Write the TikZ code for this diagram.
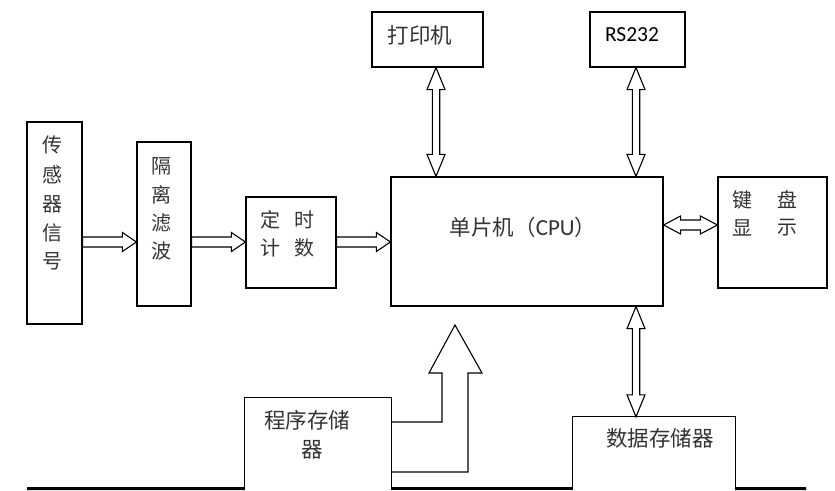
\documentclass[tikz,border=0pt]{standalone}
\usepackage{fontspec}
\newfontfamily\cjk{Noto Sans CJK SC}
\newfontfamily\lat{Carlito}
\usetikzlibrary{calc}
\tikzset{
  blk/.style={draw, line width=1.2pt, inner sep=0pt},
  ghost/.style={inner sep=0pt},
  fat/.style={draw, line width=1.1pt, fill=white, line join=miter},
  bus/.style={line width=3pt},
  side/.style={line width=1.2pt},
  lbl/.style={inner sep=0pt, text=black!80, font=\cjk\fontsize{20}{20}\selectfont},
  lblL/.style={inner sep=0pt, text=black!80, font=\cjk\fontsize{21.5}{21.5}\selectfont},
}
\newcommand\vdar[2]{\draw[fat] let \p1=#1, \p2=#2 in
  (\x1,\y1) -- ++(9pt,-22pt) -- ++(-5.3pt,0pt) -- (\x1+3.7pt,\y2+22pt) -- ++(5.3pt,0pt)
  -- (\x1,\y2) -- ++(-9pt,22pt) -- ++(5.3pt,0pt) -- (\x1-3.7pt,\y1-22pt) -- ++(-5.3pt,0pt) -- cycle;}
\newcommand\hdar[2]{\draw[fat] let \p1=#1, \p2=#2 in
  (\x1,\y1) -- ++(17pt,9pt) -- ++(0pt,-4pt) -- (\x2-17pt,\y1+5pt) -- ++(0pt,4pt)
  -- (\x2,\y1) -- ++(-17pt,-9pt) -- ++(0pt,4pt) -- (\x1+17pt,\y1-5pt) -- ++(0pt,-4pt) -- cycle;}
\newcommand\rar[2]{\draw[fat] let \p1=#1, \p2=#2 in
  (\x1,\y1+5pt) -- (\x2-14pt,\y1+5pt) -- ++(0pt,4.5pt) -- (\x2,\y1)
  -- ++(-14pt,-9.5pt) -- ++(0pt,4.5pt) -- (\x1,\y1-5pt) -- cycle;}
\begin{document}
\begin{tikzpicture}[x=1pt,y=-1pt]
\useasboundingbox (0,0) rectangle (835,490);

% boxes
\node[blk, minimum width=55pt, minimum height=202pt] (sens) at (54.5,223) {};
\node[blk, minimum width=54pt, minimum height=164pt] (iso) at (164,224) {};
\node[blk, minimum width=90pt, minimum height=91pt] (tim) at (291,242.5) {};
\node[blk, minimum width=272pt, minimum height=129pt] (cpu) at (527,241.5) {};
\node[blk, minimum width=109pt, minimum height=111pt] (kb) at (772.5,232.5) {};
\node[blk, minimum width=111pt, minimum height=55pt] (pr) at (427.5,39.5) {};
\node[blk, minimum width=95pt, minimum height=55pt] (rs) at (637.5,39.5) {};
\node[ghost, minimum width=146pt, minimum height=90.5pt] (prog) at (318,443.25) {};
\node[ghost, minimum width=162pt, minimum height=71.5pt] (data) at (654,452.75) {};
\draw[side] (prog.south west) -- (prog.north west) -- (prog.north east) -- (prog.south east);
\draw[side] (data.south west) -- (data.north west) -- (data.north east) -- (data.south east);

% bus line
\coordinate (busL) at (27,488.5);
\coordinate (busR) at (806,488.5);
\draw[bus] (busL) -- (prog.south west);
\draw[bus] (prog.south east) -- (data.south west);
\draw[bus] (data.south east) -- (busR);

% labels
\node[lbl] (t1) at (52,145) {传};
\node[lbl] (t2) at (52,175) {感};
\node[lbl] (t3) at (52,204) {器};
\node[lbl] (t4) at (52,233) {信};
\node[lbl] (t5) at (52,261) {号};
\node[lbl] (i1) at (161,166) {隔};
\node[lbl] (i2) at (161,195) {离};
\node[lbl] (i3) at (161,223) {滤};
\node[lbl] (i4) at (161,251) {波};
\node[lbl] (d1) at (270,220) {定};
\node[lbl] (d2) at (304,220) {时};
\node[lbl] (d3) at (270,248) {计};
\node[lbl] (d4) at (304,248) {数};
\node[lbl] (k1) at (742,200) {键};
\node[lbl] (k2) at (787,200) {盘};
\node[lbl] (k3) at (742,228) {显};
\node[lbl] (k4) at (787,228) {示};
\node[lblL] (prt) at (420,35) {打印机};
\node[inner sep=0pt, font=\lat\fontsize{21.5}{21.5}\selectfont] (rst) at (632,35) {RS232};
\node[lblL] (cput) at (523,227) {单片机（{\lat\fontsize{23}{23}\selectfont CPU}）};
\node[lblL] (pg1) at (307,420) {程序存储};
\node[lblL] (pg2) at (312,450) {器};
\node[lblL] (dt) at (660,438) {数据存储器};

% arrows
\coordinate (ya) at (0,242);
\coordinate (yk) at (0,225);
\coordinate (xa) at (436,0);
\coordinate (xb) at (636,0);
\rar{(sens.east |- ya)}{(iso.west |- ya)}
\rar{(iso.east |- ya)}{(tim.west |- ya)}
\rar{(tim.east |- ya)}{(cpu.west |- ya)}
\vdar{(xa |- pr.south)}{(xa |- cpu.north)}
\vdar{(xb |- rs.south)}{(xb |- cpu.north)}
\vdar{(xb |- cpu.south)}{(xb |- data.north)}
\hdar{(cpu.east |- yk)}{(kb.west |- yk)}

% bent arrow from program memory up to CPU
\coordinate (tip) at (455,325);
\draw[fat, fill=none] (prog.east |- 0,422) -- (442,422) -- (442,373) -- (429,373) -- (tip)
  -- (482,373) -- (468,373) -- (468,472) -- (prog.east |- 0,472);
\end{tikzpicture}
\end{document}
